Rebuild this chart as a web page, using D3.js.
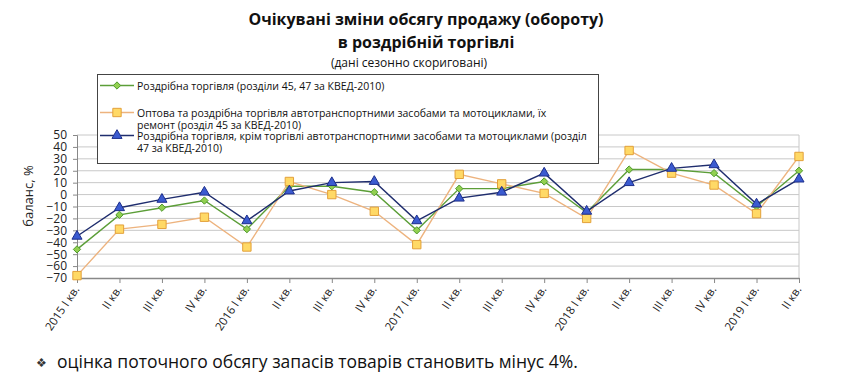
<!DOCTYPE html>
<html>
<head>
<meta charset="utf-8">
<script src="https://cdn.jsdelivr.net/npm/d3@7"></script>
<style>
  body { margin: 0; background: #fff; }
  svg { display: block; font-family: "Open Sans", "Noto Sans", sans-serif; }
</style>
</head>
<body>
<svg id="chart" width="850" height="384"></svg>
<script>
// quarters, 2015 I - 2019 II
let quarters = ["2015 I кв.", "II кв.", "III кв.", "IV кв.",
  "2016 I кв.", "II кв.", "III кв.", "IV кв.",
  "2017 I кв.", "II кв.", "III кв.", "IV кв.",
  "2018 I кв.", "II кв.", "III кв.", "IV кв.",
  "2019 I кв.", "II кв."];

let retailAll = [-46, -17, -11, -5, -29, 7, 7, 2, -30, 5, 5, 11, -15, 21, 21, 18, -10, 20];
let retailAuto = [-68, -29, -25, -19, -44, 11, 0, -14, -42, 17, 9, 1, -20, 37, 18, 8, -16, 32];
let retailNoAuto = [-35, -11, -4, 2, -22, 3, 10, 11, -22, -3, 2, 18, -14, 10, 22, 25, -8, 13];

let yTicks = [50, 40, 30, 20, 10, 0, -10, -20, -30, -40, -50, -60, -70];

let seriesNames = [
  ["Роздрібна торгівля (розділи 45, 47 за КВЕД-2010)"],
  ["Оптова та роздрібна торгівля автотранспортними засобами та мотоциклами, їх",
   "ремонт (розділ 45 за КВЕД-2010)"],
  ["Роздрібна торгівля, крім торгівлі автотранспортними засобами та мотоциклами (розділ",
   "47 за КВЕД-2010)"]
];

let series = [
  { values: retailAll, line: "#5c9e38", fill: "#92d050", stroke: "#4f9a2c", symbol: d3.symbolDiamond2, size: 34 },
  { values: retailAuto, line: "#edb37e", fill: "#ffd966", stroke: "#e3a03a", symbol: d3.symbolSquare, size: 70 },
  { values: retailNoAuto, line: "#1f2d6e", fill: "#3b5bd0", stroke: "#1d2f8c", symbol: d3.symbolTriangle, size: 44 }
];

let svg = d3.select("#chart");

let x = d3.scalePoint().domain(quarters.map((d, i) => i)).range([77, 799]);
let y = d3.scaleLinear().domain([-70, 50]).range([278, 135]);

// titles
svg.append("text").attr("x", 426).attr("y", 25).attr("text-anchor", "middle")
  .attr("font-size", "16px").attr("font-weight", "bold").attr("fill", "#111")
  .text("Очікувані зміни обсягу продажу (обороту)");
svg.append("text").attr("x", 426).attr("y", 48).attr("text-anchor", "middle")
  .attr("font-size", "16px").attr("font-weight", "bold").attr("fill", "#111")
  .text("в роздрібній торгівлі");
svg.append("text").attr("x", 409).attr("y", 67).attr("text-anchor", "middle")
  .attr("font-size", "12px").attr("fill", "#111")
  .text("(дані сезонно скориговані)");

// gridlines
svg.append("g").selectAll("line")
  .data(yTicks.filter(d => d > -70))
  .enter().append("line")
  .attr("x1", 77).attr("x2", 799)
  .attr("y1", d => y(d)).attr("y2", d => y(d))
  .attr("stroke", "#c8c8c8").attr("stroke-width", 1);

svg.append("line").attr("x1", 799).attr("x2", 799)
  .attr("y1", y(50)).attr("y2", y(-70)).attr("stroke", "#c8c8c8");

// y axis
let yAxis = svg.append("g").attr("transform", "translate(77,0)")
  .call(d3.axisLeft(y).tickValues(yTicks).tickSize(4).tickPadding(6).tickFormat(d3.format("d")));
yAxis.select(".domain").attr("stroke", "#888");
yAxis.selectAll(".tick line").attr("stroke", "#888");
yAxis.selectAll("text").attr("font-size", "12px").attr("fill", "#222")
  .attr("font-family", "Open Sans, sans-serif");

svg.append("text").attr("transform", "translate(33,196) rotate(-90)")
  .attr("text-anchor", "middle").attr("font-size", "13px").attr("fill", "#222")
  .text("баланс, %");

// x axis
let xAxis = svg.append("g").attr("transform", "translate(0,278)")
  .call(d3.axisBottom(x).tickSize(5).tickSizeOuter(0).tickFormat(i => quarters[i]));
xAxis.select(".domain").attr("stroke", "#888").attr("stroke-width", 1.5);
xAxis.selectAll(".tick line").attr("stroke", "#888");
xAxis.selectAll("text")
  .attr("font-size", "11.5px").attr("fill", "#222")
  .attr("font-family", "Open Sans, sans-serif")
  .attr("text-anchor", "end")
  .attr("dy", "0.35em")
  .attr("transform", "translate(-1,9) rotate(-56)")
  .attr("y", 0).attr("x", 0);

// series
series.forEach(s => {
  let line = d3.line().x((d, i) => x(i)).y(d => y(d));
  svg.append("path").datum(s.values)
    .attr("d", line).attr("fill", "none")
    .attr("stroke", s.line).attr("stroke-width", 1.4);
  svg.append("g").selectAll("path")
    .data(s.values).enter().append("path")
    .attr("d", d3.symbol().type(s.symbol).size(s.size))
    .attr("transform", (d, i) => "translate(" + x(i) + "," + y(d) + ")")
    .attr("fill", s.fill).attr("stroke", s.stroke).attr("stroke-width", 1);
});

// legend
let legend = svg.append("g");
legend.append("rect").attr("x", 97.5).attr("y", 74.5).attr("width", 501).attr("height", 89)
  .attr("fill", "#fff").attr("stroke", "#444").attr("stroke-width", 1);

let rowY = [85.5, 112.5, 135.5];
seriesNames.forEach((lines, k) => {
  let s = series[k];
  let g = legend.append("g").attr("transform", "translate(0," + rowY[k] + ")");
  g.append("line").attr("x1", 100).attr("x2", 134).attr("y1", 0).attr("y2", 0)
    .attr("stroke", s.line).attr("stroke-width", 1.4);
  g.append("path").attr("d", d3.symbol().type(s.symbol).size(s.size))
    .attr("transform", "translate(117,0)")
    .attr("fill", s.fill).attr("stroke", s.stroke);
  lines.forEach((t, j) => {
    g.append("text").attr("x", 137).attr("y", j * 12 + 4)
      .attr("font-size", "10.5px").attr("fill", "#111").text(t);
  });
});

// note
svg.append("text").attr("x", 36).attr("y", 367).attr("font-size", "12px")
  .attr("fill", "#333").text("❖");
svg.append("text").attr("x", 57).attr("y", 368).attr("font-size", "17.5px")
  .attr("fill", "#111").text("оцінка поточного обсягу запасів товарів становить мінус 4%.");
</script>
</body>
</html>
